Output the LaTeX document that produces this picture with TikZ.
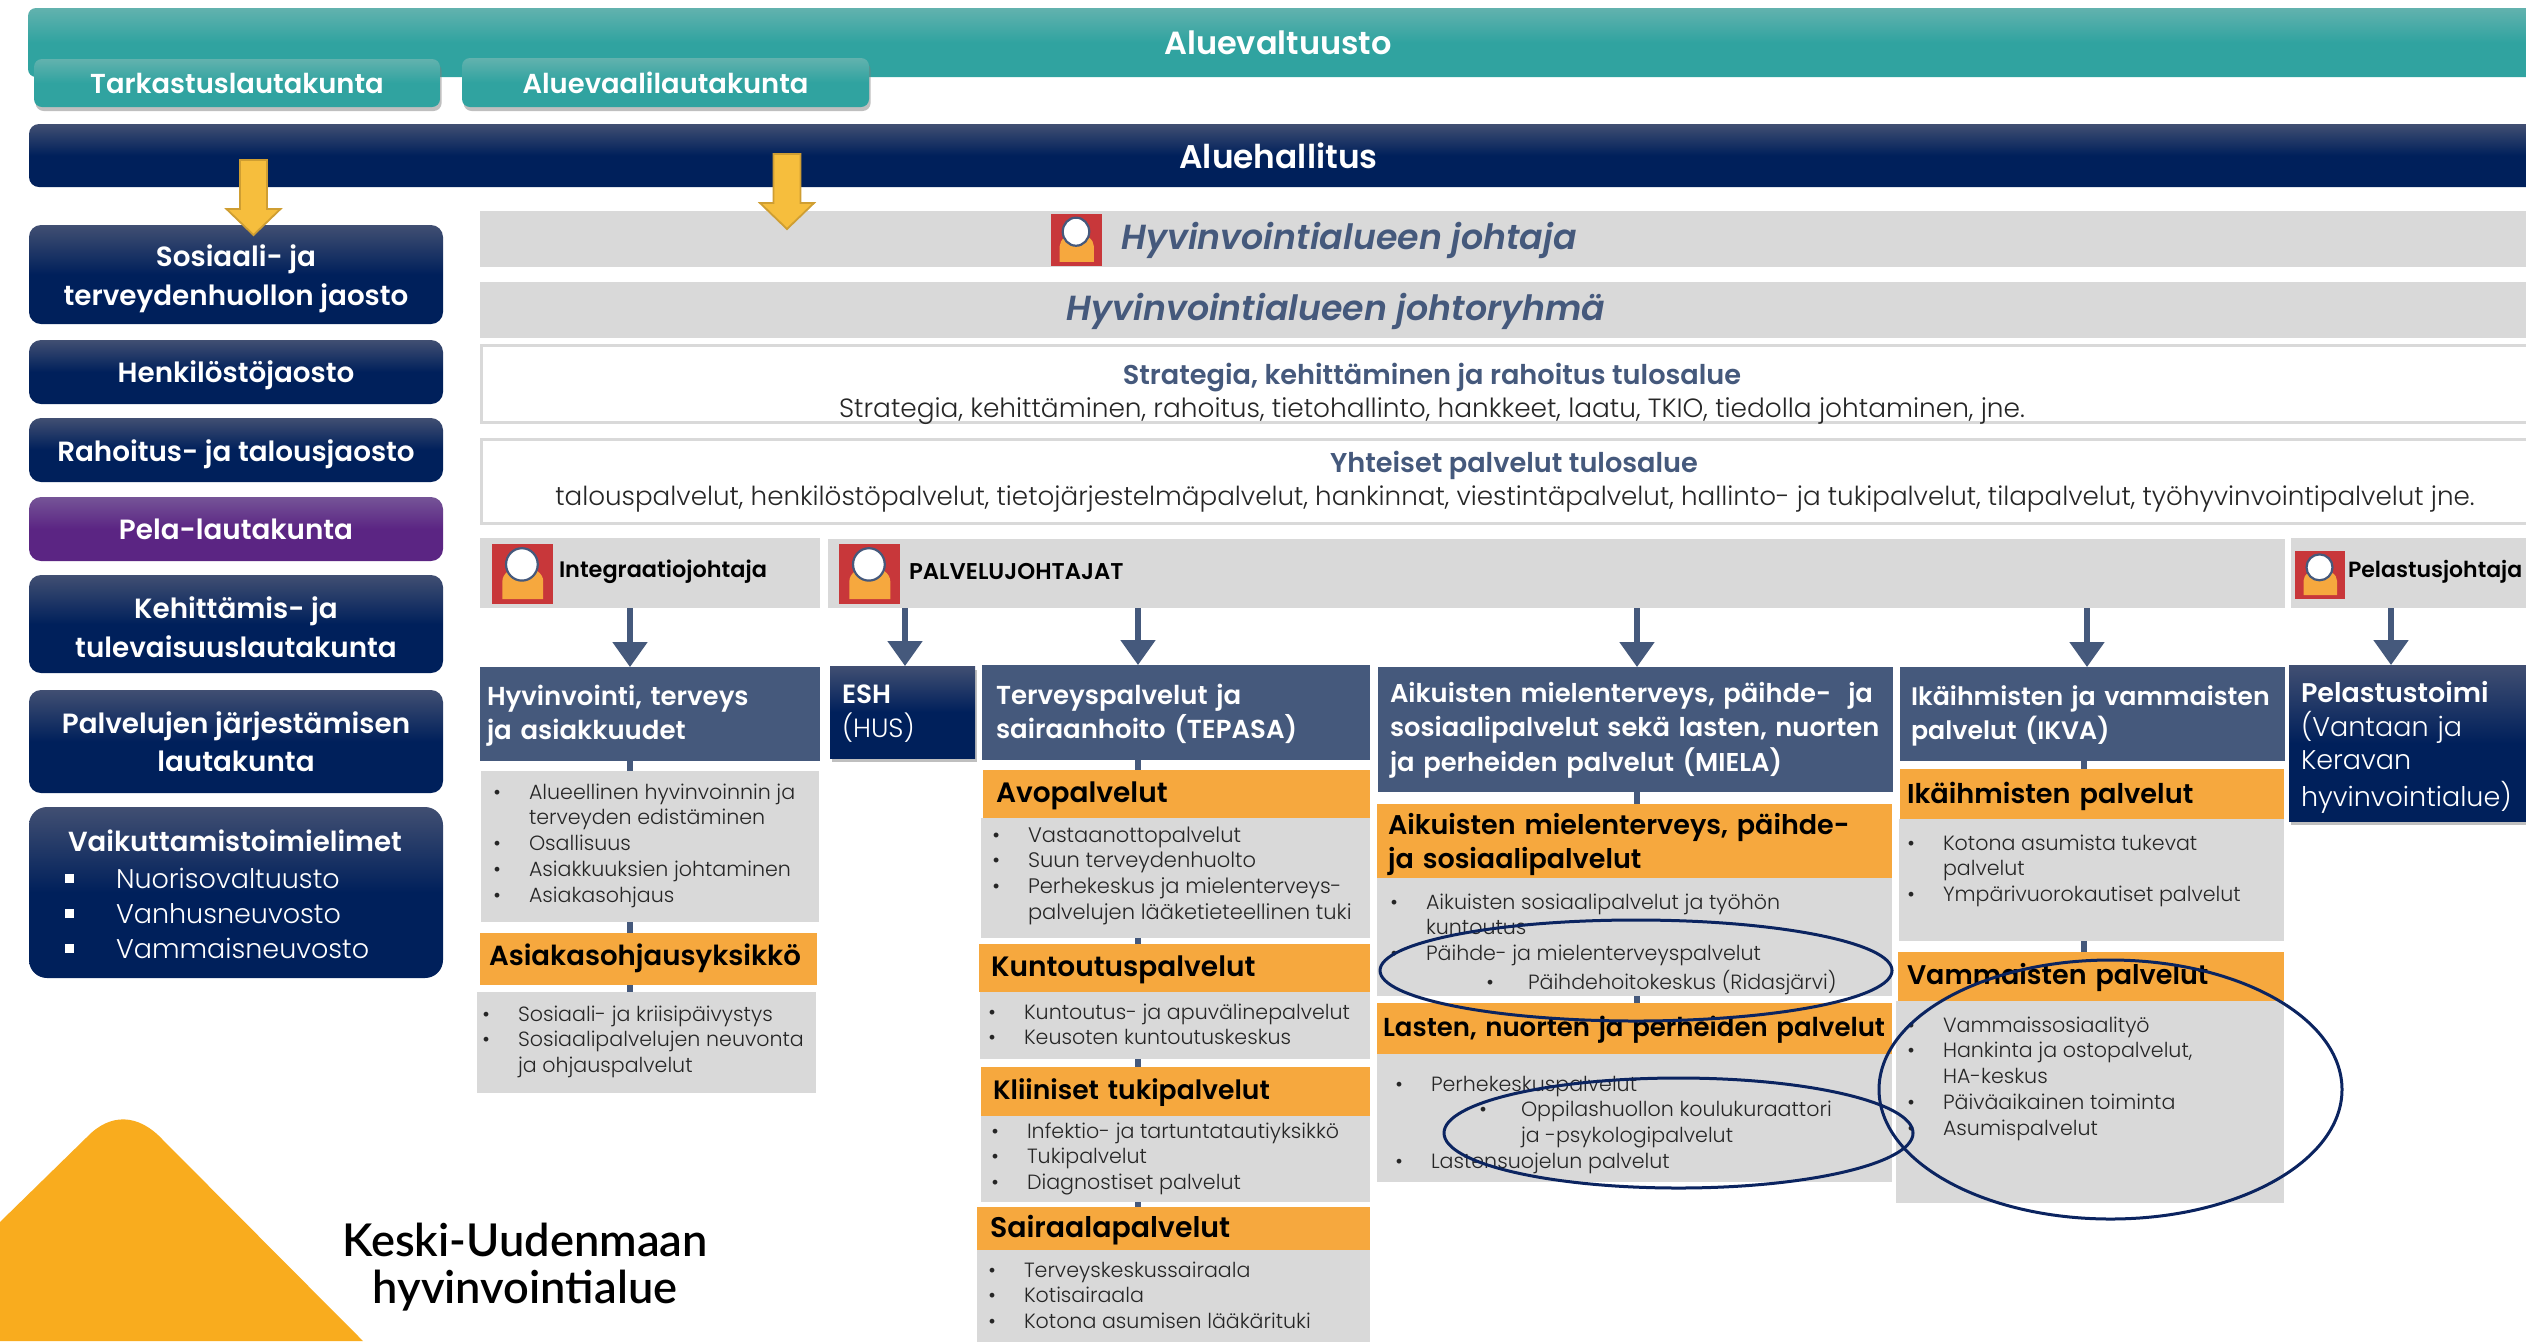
\documentclass[tikz,border=0pt]{standalone}
\usepackage{fontspec}
\setmainfont{Poppins}[UprightFont=* Light,BoldFont=* SemiBold,ItalicFont=* Light Italic,BoldItalicFont=* SemiBold Italic]
\newfontfamily\lato{Lato Semibold}
\usetikzlibrary{arrows.meta,shadows,calc}
\definecolor{navyb}{HTML}{00205B}\definecolor{navyt}{HTML}{414F72}
\definecolor{tealb}{HTML}{30A3A0}\definecolor{tealt}{HTML}{62B2AE}
\definecolor{purpb}{HTML}{5B2583}\definecolor{purpt}{HTML}{755497}
\definecolor{greyb}{HTML}{D9D9D9}\definecolor{orab}{HTML}{F6A83E}\definecolor{blueb}{HTML}{45597C}
\definecolor{yel}{HTML}{F6BE3D}\definecolor{yeld}{HTML}{CF9E32}\definecolor{tri}{HTML}{F9AC1E}
\definecolor{ink}{HTML}{262626}\definecolor{ring}{HTML}{0B2460}\definecolor{redb}{HTML}{C8373A}
\pgfdeclareverticalshading{navysh}{100bp}{color(0bp)=(navyb);color(50bp)=(navyb);color(75bp)=(navyt);color(100bp)=(navyt)}
\pgfdeclareverticalshading{tealsh}{100bp}{color(0bp)=(tealb);color(50bp)=(tealb);color(75bp)=(tealt);color(100bp)=(tealt)}
\pgfdeclareverticalshading{purpsh}{100bp}{color(0bp)=(purpb);color(50bp)=(purpb);color(75bp)=(purpt);color(100bp)=(purpt)}
\newcommand\fs[2]{\fontsize{#1}{#2}\selectfont\bfseries}
\newcommand\Up[1]{\rule{0pt}{\dimexpr.7\baselineskip+#1pt\relax}}
\tikzset{
 every node/.style={inner sep=0pt,outer sep=0pt},
 softshadow/.style={drop shadow={opacity=.5,shadow xshift=.8pt,shadow yshift=-2pt}},
 navybar/.style={shade,shading=navysh,rounded corners=6pt,text=white,align=center,font=\fs{13.9}{19.2}},
 tealbar/.style={shade,shading=tealsh,rounded corners=4pt,text=white,align=center,font=\fs{13.7}{19}},
 purpbar/.style={navybar,shading=purpsh},
 greybar/.style={fill=greyb},
 whitebar/.style={fill=white,draw=greyb,line width=1.5pt},
 bluehead/.style={fill=blueb,text=white,align=left,font=\fs{13}{16.8}},
 orahead/.style={fill=orab,text=black,align=left,font=\fs{14}{17}},
 listbox/.style={fill=greyb},
 listtxt/.style={anchor=north west,align=left,text=ink,font=\fontsize{10.3}{12.9}\selectfont},
 title/.style={text=blueb,font=\fs{13.6}{16}},
 subline/.style={text=ink,font=\fontsize{13.2}{16}\selectfont},
 role/.style={anchor=west,text=black,font=\fs{11.2}{13}},
 link/.style={draw=blueb,line width=2.6pt},
 flow/.style={link,-{Triangle[length=12.5pt,width=17pt]}},
 oval/.style={draw=ring,line width=1.5pt},
}
% box from corners: style, name, x1, y1, x2, y2, text
\newcommand\bx[7]{%
 \pgfmathsetlengthmacro\bw{(#5-#3)*0.5}\pgfmathsetlengthmacro\bh{(#6-#4)*0.5}%
 \node[#1,minimum width=\bw,minimum height=\bh] (#2) at ({(#3+#5)/2},{(#4+#6)/2}) {#7};}
% left aligned box: like \bx, plus left padding in px
\newcommand\lbx[8]{%
 \pgfmathsetlengthmacro\bw{(#5-#3)*0.5}\pgfmathsetlengthmacro\bh{(#6-#4)*0.5}%
 \pgfmathsetlengthmacro\bp{#7*0.5}\pgfmathsetlengthmacro\btw{\bw-2*\bp}%
 \node[#1,minimum width=\bw,minimum height=\bh,inner xsep=\bp,text width=\btw] (#2) at ({(#3+#5)/2},{(#4+#6)/2}) {#8};}
\newcommand\B{\strut\llap{•\hspace{14pt}}}
\newcommand\BB{\strut\llap{•\hspace{17pt}}}
% icon: x1, y1, x2, y2
\newcommand\icon[4]{%
 \begin{scope}[shift={(#1,#2)},x={({(#3-#1)*0.5pt},0pt)},y={(0pt,{-(#4-#2)*0.5pt})}]
 \fill[redb] (0,0) rectangle (1,1);
 \fill[orab] (.17,.92) -- (.17,.62) arc[x radius=.335,y radius=.24,start angle=180,end angle=360] -- (.84,.92) -- cycle;
 \fill[white,draw=blueb,line width=1.1pt] (.49,.34) ellipse[x radius=.26,y radius=.27];
 \end{scope}}
\newcommand\yarrow[4]{% x centre, y top, y shoulder, y tip
 \filldraw[fill=yel,draw=yeld,line width=.9pt] (#1-13.5,#2) -- (#1+13.5,#2) -- (#1+13.5,#3) -- (#1+27,#3) -- (#1,#4) -- (#1-27,#3) -- (#1-13.5,#3) -- cycle;}
\begin{document}
\begin{tikzpicture}[x=0.5pt,y=-0.5pt]
\useasboundingbox (0,0) rectangle (2526,1341);
\fill[white] (0,0) rectangle (2526,1341);
% corner triangle
\fill[tri] (-10,1232) -- (0,1222) -- (87,1137) .. controls (110,1113) and (138,1113) .. (163,1140) -- (363,1341) -- (-10,1341) -- cycle;
\node[font=\lato\fontsize{22.6}{23.5}\selectfont,align=center,text=black] (brand) at (525,1267) {Keski-Uudenmaan\\hyvinvointialue};
% top bars
\bx{tealbar,font=\fs{16}{19}}{valt}{28}{8}{2560}{77}{\hspace*{-16pt}Aluevaltuusto}
\bx{tealbar,softshadow}{tark}{34}{59}{440}{107}{Tarkastuslautakunta}
\bx{tealbar,softshadow}{aluev}{462}{58}{869}{107}{Aluevaalilautakunta}
\bx{navybar,rounded corners=5pt,font=\fs{16.4}{19}}{halli}{29}{124}{2560}{187}{\hspace*{-16pt}Aluehallitus}
% left column
\bx{navybar}{sote}{29}{225}{443}{324}{\Up{4}Sosiaali- ja\\\strut terveydenhuollon jaosto}
\bx{navybar}{henk}{29}{340}{443}{404}{\Up{3}\strut Henkilöstöjaosto}
\bx{navybar}{raha}{29}{418}{443}{482}{\Up{4}\strut Rahoitus- ja talousjaosto}
\bx{purpbar}{pela}{29}{497}{443}{561}{\Up{3}\strut Pela-lautakunta}
\bx{navybar}{kehi}{29}{575}{443}{673}{\Up{6.5}Kehittämis- ja\\\strut tulevaisuuslautakunta}
\bx{navybar}{jarj}{29}{690}{443}{793}{\Up{3}Palvelujen järjestämisen\\\strut lautakunta}
\bx{navybar,rounded corners=9pt}{vaik}{29}{807}{443}{978}{}
\node[text=white,font=\fs{13.8}{19}] (vaikt) at (235,841) {Vaikuttamistoimielimet};
\node[anchor=north west,text=white,align=left,font=\fontsize{13.5}{17.5}\selectfont] (vaikl) at (116,864)
 {\strut\llap{\rule[.2em]{.32em}{.32em}\hspace{21pt}}Nuorisovaltuusto\\\strut\llap{\rule[.2em]{.32em}{.32em}\hspace{21pt}}Vanhusneuvosto\\\strut\llap{\rule[.2em]{.32em}{.32em}\hspace{21pt}}Vammaisneuvosto};
% management rows
\bx{greybar}{joht}{480}{211}{2560}{267}{}
\node[title,font=\fontsize{17.4}{20}\selectfont\bfseries\itshape] (johtt) at (1349,240) {Hyvinvointialueen johtaja};
\icon{1051}{214}{1102}{266}
\bx{greybar}{ryhma}{480}{282}{2560}{338}{}
\node[title,font=\fontsize{17.4}{20}\selectfont\bfseries\itshape] (ryhmat) at (1336,311) {Hyvinvointialueen johtoryhmä};
\bx{whitebar}{stra}{481}{345}{2560}{422}{}
\node[title] (strah) at (1432,378) {Strategia, kehittäminen ja rahoitus tulosalue};
\node[subline] (stral) at (1432,411) {Strategia, kehittäminen, rahoitus, tietohallinto, hankkeet, laatu, TKIO, tiedolla johtaminen, jne.};
\bx{whitebar}{yht}{481}{439}{2560}{523}{}
\node[title] (yhth) at (1514,465) {Yhteiset palvelut tulosalue};
\node[subline,font=\fontsize{13.1}{16}\selectfont] (yhtl) at (1515,499) {talouspalvelut, henkilöstöpalvelut, tietojärjestelmäpalvelut, hankinnat, viestintäpalvelut, hallinto- ja tukipalvelut, tilapalvelut, työhyvinvointipalvelut jne.};
% director row
\bx{greybar}{intj}{480}{538}{820}{608}{}
\bx{greybar}{palj}{828}{539}{2285}{608}{}
\bx{greybar}{pelj}{2291}{538}{2560}{608}{}
\icon{492}{544}{553}{604}
\icon{839}{544}{900}{604}
\icon{2295}{551}{2345}{599}
\node[role] (intjt) at (559,572) {Integraatiojohtaja};
\node[role,font=\fs{11.4}{13}] (paljt) at (909,571) {PALVELUJOHTAJAT};
\node[role,font=\fs{11}{13}] (peljt) at (2348,572) {Pelastusjohtaja};
% vertical lines behind boxes
\coordinate (c1) at (630,0);\coordinate (c2) at (905,0);\coordinate (c3) at (1138,0);
\coordinate (c4) at (1637,0);\coordinate (c5) at (2087,0);\coordinate (c6) at (2391,0);\coordinate (c7) at (2084,0);
% unit headers
\lbx{bluehead}{hyv}{480}{667}{820}{761}{7}{\Up{1.6}Hyvinvointi, terveys\\\strut ja asiakkuudet}
\lbx{navybar,rounded corners=0pt,softshadow,align=left,font=\fontsize{13.2}{16.8}\selectfont}{esh}{830}{666}{975}{758}{12}{\Up{1.6}\textbf{ESH}\\\strut(HUS)}
\lbx{bluehead}{tep}{982}{665}{1370}{760}{14}{\Up{2}Terveyspalvelut ja\\\strut sairaanhoito (TEPASA)}
\lbx{bluehead,font=\fs{12.9}{16.8}}{mie}{1378}{667}{1893}{792}{12}{\Up{1}\mbox{Aikuisten mielenterveys, päihde-\ \ ja}\\\strut\mbox{sosiaalipalvelut sekä lasten, nuorten}\\\strut\mbox{ja perheiden palvelut (MIELA)}}
\lbx{bluehead,font=\fs{12.65}{16.8}}{ikv}{1900}{667}{2285}{761}{11}{\Up{1.6}\mbox{Ikäihmisten ja vammaisten}\\\strut palvelut (IKVA)}
\lbx{navybar,rounded corners=0pt,softshadow,align=left,font=\fontsize{13.5}{16.7}\selectfont}{pels}{2289}{665}{2560}{821}{12}{\Up{5}\textbf{Pelastustoimi}\\\strut(Vantaan ja\\\strut Keravan\\\strut hyvinvointialue)}
% column 1
\bx{listbox}{l1}{481}{771}{819}{922}{}
\lbx{orahead,font=\fs{13.8}{17}}{o1}{480}{933}{817}{985}{9}{\strut Asiakasohjausyksikkö}
\bx{listbox}{l2}{477}{992}{816}{1093}{}
\node[listtxt] (t1) at (529,781) {\B Alueellinen hyvinvoinnin ja\\\strut terveyden edistäminen\\\B Osallisuus\\\B Asiakkuuksien johtaminen\\\B Asiakasohjaus};
\node[listtxt] (t2) at (518,1003) {\B Sosiaali- ja kriisipäivystys\\\B Sosiaalipalvelujen neuvonta\\\strut ja ohjauspalvelut};
% column tepasa
\lbx{orahead}{o3}{983}{770}{1370}{818}{13}{\Up{2}\strut Avopalvelut}
\bx{listbox}{l3}{981}{818}{1370}{938}{}
\lbx{orahead}{o4}{979}{944}{1370}{992}{12}{\Up{1.5}\strut Kuntoutuspalvelut}
\bx{listbox}{l4}{980}{992}{1370}{1059}{}
\lbx{orahead,font=\fs{13.3}{17}}{o5}{981}{1067}{1370}{1116}{12}{\Up{1}\strut Kliiniset tukipalvelut}
\bx{listbox}{l5}{981}{1116}{1370}{1202}{}
\lbx{orahead,font=\fs{14.2}{17}}{o6}{977}{1207}{1370}{1250}{13}{\Up{2.5}\strut Sairaalapalvelut}
\bx{listbox}{l6}{977}{1250}{1370}{1345}{}
\node[listtxt,font=\fontsize{10.5}{12.9}\selectfont] (t3) at (1028,824) {\B Vastaanottopalvelut\\\B Suun terveydenhuolto\\\B Perhekeskus ja mielenterveys-\\\strut palvelujen lääketieteellinen tuki};
\node[listtxt] (t4) at (1024,1001) {\B Kuntoutus- ja apuvälinepalvelut\\\B Keusoten kuntoutuskeskus};
\node[listtxt] (t5) at (1027,1120) {\B Infektio- ja tartuntatautiyksikkö\\\B Tukipalvelut\\\B Diagnostiset palvelut};
\node[listtxt] (t6) at (1024,1259) {\B Terveyskeskussairaala\\\B Kotisairaala\\\B Kotona asumisen lääkärituki};
% column miela
\lbx{orahead,font=\fs{13.5}{17}}{o7}{1377}{804}{1892}{878}{11}{\Up{3.5}Aikuisten mielenterveys, päihde-\\\strut ja sosiaalipalvelut}
\bx{listbox}{l7}{1377}{878}{1892}{996}{}
\lbx{orahead,font=\fs{13}{17}}{o8}{1377}{1003}{1892}{1054}{6}{\Up{1}\strut\mbox{Lasten, nuorten ja perheiden palvelut}}
\bx{listbox}{l8}{1377}{1054}{1892}{1182}{}
\node[listtxt] (t7) at (1426,891) {\B Aikuisten sosiaalipalvelut ja työhön\\\strut kuntoutus\\\B Päihde- ja mielenterveyspalvelut\\\hspace*{51pt}\BB Päihdehoitokeskus (Ridasjärvi)};
\node[listtxt] (t8) at (1431,1073) {\B Perhekeskuspalvelut\\\hspace*{45pt}\BB Oppilashuollon koulukuraattori\\\hspace*{45pt}\strut ja -psykologipalvelut\\\B Lastensuojelun palvelut};
% column ikva
\lbx{orahead,font=\fs{13.6}{17}}{o9}{1900}{769}{2284}{819}{7}{\Up{3}\strut Ikäihmisten palvelut}
\bx{listbox}{l9}{1899}{819}{2284}{941}{}
\lbx{orahead,font=\fs{13.5}{17}}{o10}{1898}{952}{2284}{1001}{9}{\Up{1.5}\strut Vammaisten palvelut}
\bx{listbox}{l10}{1896}{1001}{2284}{1203}{}
\node[listtxt] (t9) at (1943,832) {\B Kotona asumista tukevat\\\strut palvelut\\\B Ympärivuorokautiset palvelut};
\node[listtxt] (t10) at (1943,1014) {\B Vammaissosiaalityö\\\B Hankinta ja ostopalvelut,\\\strut HA-keskus\\\B Päiväaikainen toiminta\\\B Asumispalvelut};
% connectors
\draw[flow] (c1 |- intj.south) -- (c1 |- hyv.north);
\draw[flow] (c2 |- palj.south) -- (c2 |- esh.north);
\draw[flow] (c3 |- palj.south) -- (c3 |- tep.north);
\draw[flow] (c4 |- palj.south) -- (c4 |- mie.north);
\draw[flow] (c5 |- palj.south) -- (c5 |- ikv.north);
\draw[flow] (c6 |- pelj.south) -- (c6 |- pels.north);
\draw[link] (c1 |- hyv.south) -- (c1 |- l1.north);
\draw[link] (c1 |- l1.south) -- (c1 |- o1.north);
\draw[link] (c1 |- o1.south) -- (c1 |- l2.north);
\draw[link] (c3 |- tep.south) -- (c3 |- o3.north);
\draw[link] (c3 |- l3.south) -- (c3 |- o4.north);
\draw[link] (c3 |- l4.south) -- (c3 |- o5.north);
\draw[link] (c3 |- l5.south) -- (c3 |- o6.north);
\draw[link] (c4 |- mie.south) -- (c4 |- o7.north);
\draw[link] (c4 |- l7.south) -- (c4 |- o8.north);
\draw[link] (c7 |- ikv.south) -- (c7 |- o9.north);
\draw[link] (c7 |- l9.south) -- (c7 |- o10.north);
% yellow arrows
\yarrow{253.5}{160}{209}{235}
\yarrow{787}{154}{203}{229}
% rings
\draw[oval] (1636,970.5) ellipse[x radius=256,y radius=50.5];
\draw[oval] (1678.5,1133) ellipse[x radius=234.5,y radius=55];
\draw[oval] (2110.5,1089.5) ellipse[x radius=231.5,y radius=129.5];
\end{tikzpicture}
\end{document}
